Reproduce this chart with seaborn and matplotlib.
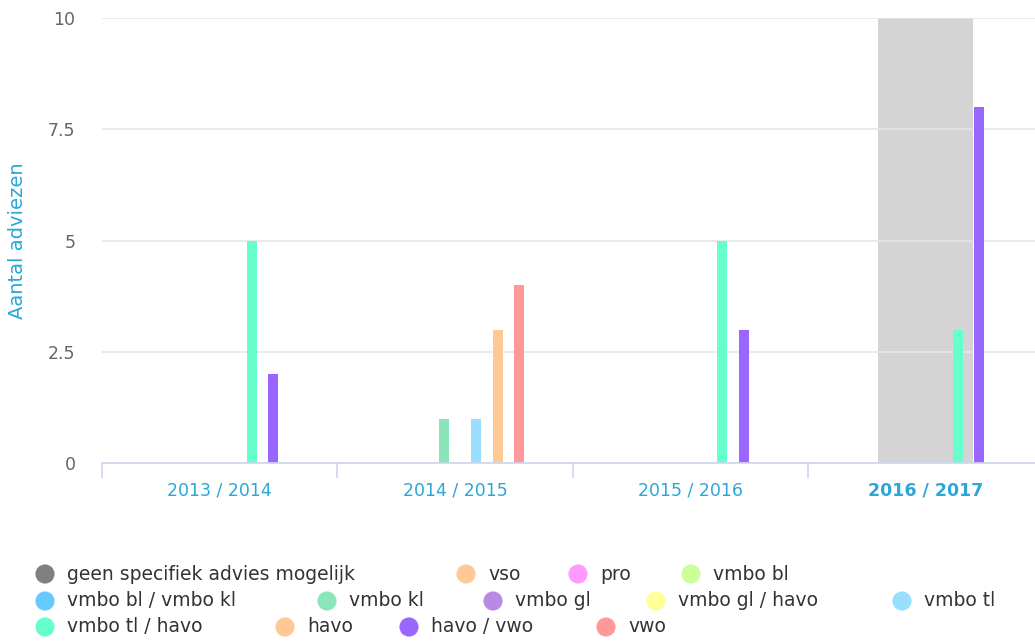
import pandas as pd
import numpy as np
import matplotlib
matplotlib.use('Agg')
import matplotlib.pyplot as plt
import seaborn as sns

# data
years = ['2013 / 2014', '2014 / 2015', '2015 / 2016', '2016 / 2017']
series = ['geen specifiek advies mogelijk', 'vso', 'pro', 'vmbo bl',
          'vmbo bl / vmbo kl', 'vmbo kl', 'vmbo gl', 'vmbo gl / havo', 'vmbo tl',
          'vmbo tl / havo', 'havo', 'havo / vwo', 'vwo']
colors = ['#808080', '#ffc996', '#ff99ff', '#ccff99',
          '#66c9ff', '#8ae6b8', '#b88ae6', '#ffff99', '#99ddff',
          '#66ffcc', '#ffc996', '#9966ff', '#ff9999']
# one row per series, one value per school year
counts = [
    [0, 0, 0, 0],  # geen specifiek advies mogelijk
    [0, 0, 0, 0],  # vso
    [0, 0, 0, 0],  # pro
    [0, 0, 0, 0],  # vmbo bl
    [0, 0, 0, 0],  # vmbo bl / vmbo kl
    [0, 1, 0, 0],  # vmbo kl
    [0, 0, 0, 0],  # vmbo gl
    [0, 0, 0, 0],  # vmbo gl / havo
    [0, 1, 0, 0],  # vmbo tl
    [5, 0, 5, 3],  # vmbo tl / havo
    [0, 3, 0, 0],  # havo
    [2, 0, 3, 8],  # havo / vwo
    [0, 4, 0, 0],  # vwo
]
highlight_year = '2016 / 2017'
y_ticks = [0, 2.5, 5, 7.5, 10]
y_tick_labels = ['0', '2.5', '5', '7.5', '10']

# legend rows as drawn (flowing layout)
legend_rows = [
    ['geen specifiek advies mogelijk', 'vso', 'pro', 'vmbo bl'],
    ['vmbo bl / vmbo kl', 'vmbo kl', 'vmbo gl', 'vmbo gl / havo', 'vmbo tl'],
    ['vmbo tl / havo', 'havo', 'havo / vwo', 'vwo'],
]
legend_x = [
    [45, 466, 578, 691],
    [45, 327, 493, 656, 902],
    [45, 285, 409, 606],
]
legend_y = [574, 601, 627]

rows = []
for s, vals in zip(series, counts):
    for yr, v in zip(years, vals):
        rows.append({'jaar': yr, 'advies': s, 'aantal': v})
df = pd.DataFrame(rows)

sns.set_style('white')
plt.rcParams['font.family'] = ['DejaVu Sans']

W, H = 1035, 642
GROUP_PX = 235.3
fig = plt.figure(figsize=(W / 100, H / 100), dpi=100)
ax = fig.add_axes([102 / W, 1 - 463 / H, (W - 102) / W, (463 - 18) / H])

hi = years.index(highlight_year)
ax.axvspan(hi - 0.2, hi + 0.2, color='#d4d4d4', zorder=0.2, lw=0)

sns.barplot(data=df, x='jaar', y='aantal', hue='advies', hue_order=series,
            order=years, palette=colors, saturation=1, width=0.59, gap=0.06,
            linewidth=0, legend=False, ax=ax, zorder=2)

ax.set_yticks(y_ticks)
ax.set_yticklabels(y_tick_labels)
ax.set_xticks(np.arange(-0.5, len(years)), minor=True)
ax.set_xlim(-0.5, -0.5 + (W - 102) / GROUP_PX)
ax.set_ylim(0, 10)
ax.yaxis.grid(True, color='#e6e6e6', lw=1.2, zorder=0.5)
ax.set_axisbelow(True)
for sp in ['left', 'right', 'top']:
    ax.spines[sp].set_visible(False)
ax.spines['bottom'].set_color('#ccd6eb')
ax.spines['bottom'].set_linewidth(1.2)
ax.tick_params(axis='y', length=0, pad=19, labelsize=12.5, labelcolor='#666666')
ax.tick_params(axis='x', which='minor', bottom=True, length=11, width=1.2,
               color='#ccd6eb')
ax.tick_params(axis='x', which='major', length=0, pad=13, labelsize=12.5,
               labelcolor='#2aa7d8')
for lab in ax.get_xticklabels():
    if lab.get_text() == highlight_year:
        lab.set_fontweight('bold')
ax.set_xlabel('')
ax.set_ylabel('Aantal adviezen', color='#2aa7d8', fontsize=14)
ax.yaxis.set_label_coords(-75 / (W - 102), 0.5)

# legend drawn in pixel coordinates
lax = fig.add_axes([0, 0, 1, 1])
lax.set_xlim(0, W)
lax.set_ylim(H, 0)
lax.axis('off')
color_of = dict(zip(series, colors))
for labels, xs, y in zip(legend_rows, legend_x, legend_y):
    for lab, x in zip(labels, xs):
        lax.scatter([x], [y], s=190, color=color_of[lab], edgecolor='none')
        lax.text(x + 22, y, lab, fontsize=13.5, color='#333333', va='center', ha='left')

fig.savefig('out.png', dpi=100)
